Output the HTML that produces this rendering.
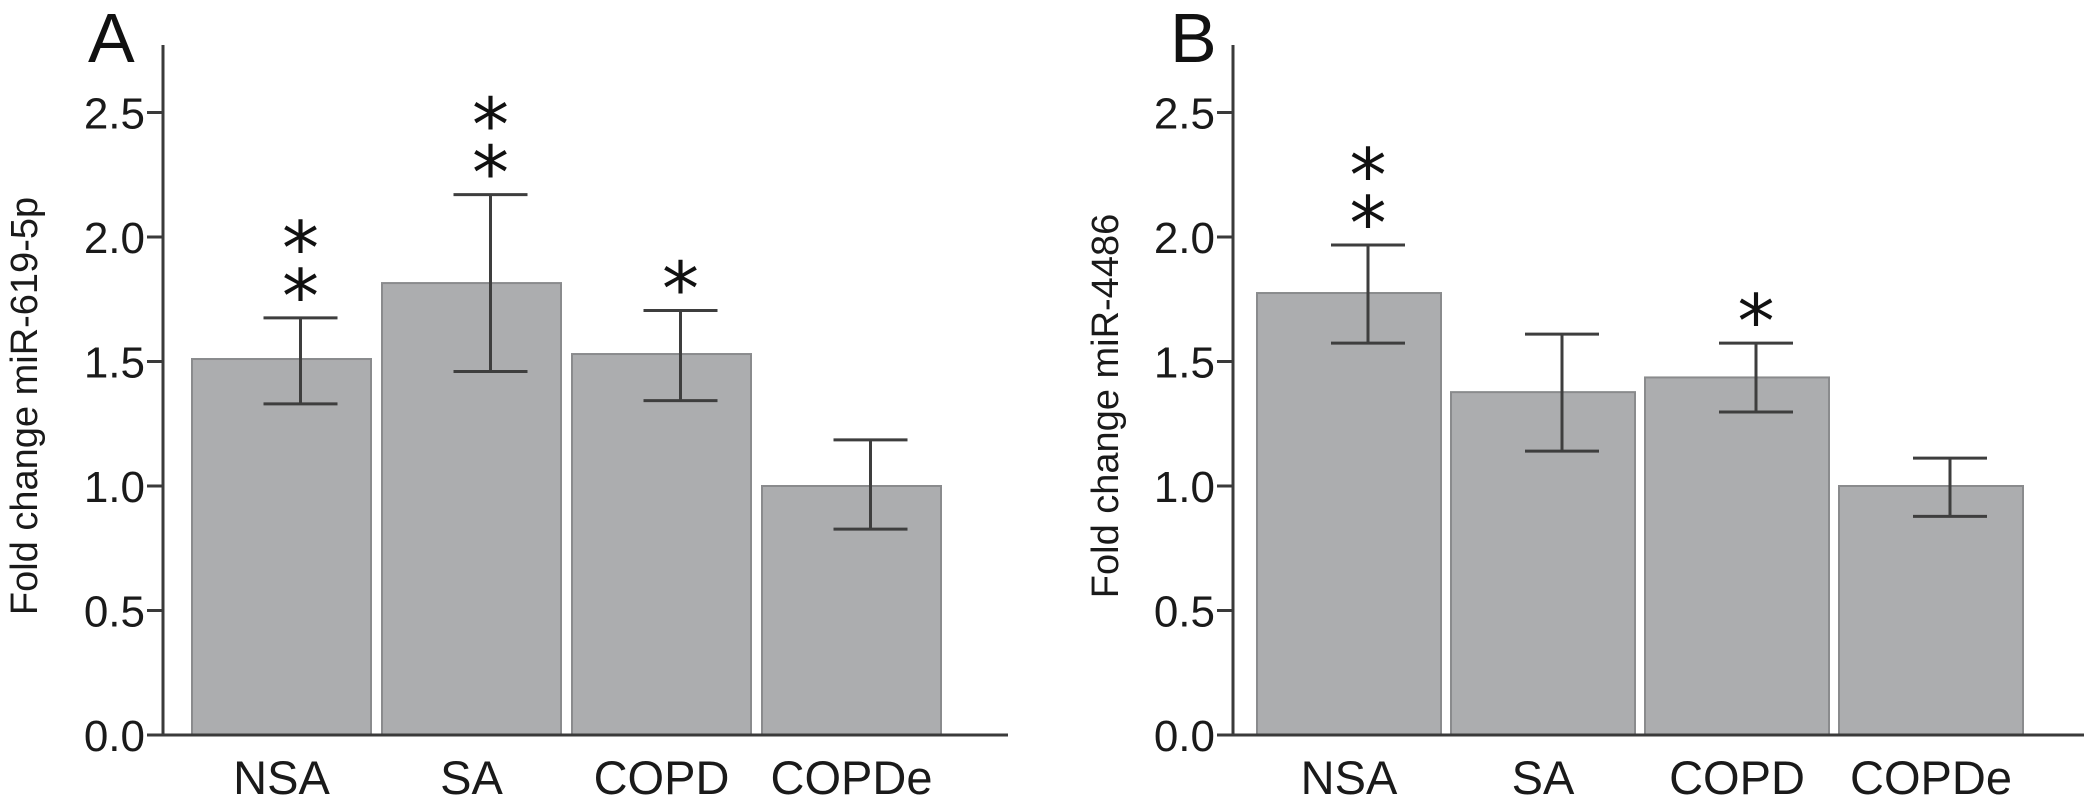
<!DOCTYPE html>
<html><head><meta charset="utf-8"><style>
html,body{margin:0;padding:0;background:#fff;}
svg{display:block;font-family:"Liberation Sans",Arial,sans-serif;}
</style></head><body>
<svg id="chart" width="2087" height="802" viewBox="0 0 2087 802"></svg>
<script>
const categories = ["NSA","SA","COPD","COPDe"];
const valuesA = [1.51, 1.815, 1.53, 1.0];
const errHiA = [1.675, 2.17, 1.705, 1.185];
const errLoA = [1.33, 1.46, 1.343, 0.827];
const starsA = [2, 2, 1, 0];
const valuesB = [1.775, 1.377, 1.436, 1.0];
const errHiB = [1.968, 1.61, 1.574, 1.112];
const errLoB = [1.574, 1.14, 1.297, 0.878];
const starsB = [2, 0, 1, 0];
const yTicks = [0, 0.5, 1.0, 1.5, 2.0, 2.5];
const yTickLabels = ["0.0","0.5","1.0","1.5","2.0","2.5"];

const NS = "http://www.w3.org/2000/svg";
const svg = document.getElementById("chart");
function mk(tag, attrs, parent){
  const e = document.createElementNS(NS, tag);
  for (const k in attrs) e.setAttribute(k, attrs[k]);
  (parent||svg).appendChild(e);
  return e;
}

function panel(cfg){
  const g = mk("g", {});
  
  
  const y0 = 735, unit = 249;
  const yScale = v => y0 - v * unit;
  const xBand = i => cfg.firstBar + i * cfg.step;
  cfg.values.forEach((v, i) => {
    const r = mk("rect", {x: xBand(i), y: yScale(v), width: cfg.barW, height: y0 - yScale(v), fill: "#acadaf", stroke: "#8a8b8d", "stroke-width": 2}, g);
    
    
  });
  cfg.values.forEach((v, i) => {
    const bc = xBand(i) + cfg.barW / 2;
    const cx = bc + 19;
    const eg = mk("g", {stroke: "#3e3e3e", "stroke-width": 3}, g);
    
    
    mk("line", {x1: cx, x2: cx, y1: yScale(cfg.hi[i]), y2: yScale(cfg.lo[i])}, eg);
    mk("line", {x1: cx - 37, x2: cx + 37, y1: yScale(cfg.hi[i]), y2: yScale(cfg.hi[i])}, eg);
    mk("line", {x1: cx - 37, x2: cx + 37, y1: yScale(cfg.lo[i]), y2: yScale(cfg.lo[i])}, eg);
    for (let s = 0; s < cfg.stars[i]; s++) {
      const cy = yScale(cfg.hi[i]) - 36 - s * 48;
      const t = mk("text", {x: cx, y: cy + 40, "text-anchor": "middle", "font-size": 74, "font-family": "DejaVu Sans, sans-serif", fill: "#111"}, g);
      t.textContent = "*";
      
      
    }
    const lbl = mk("text", {x: bc, y: 794, "text-anchor": "middle", "font-size": 47, fill: "#1a1a1a"}, g);
    lbl.textContent = categories[i];
    
    
  });
  const ya = mk("line", {x1: cfg.axisX, x2: cfg.axisX, y1: 45, y2: y0 + 1, stroke: "#3a3a3a", "stroke-width": 3}, g);
  
  
  const xa = mk("line", {x1: cfg.axisX - 16, x2: cfg.axisEnd, y1: y0, y2: y0, stroke: "#3a3a3a", "stroke-width": 3}, g);
  
  
  yTicks.forEach((t, i) => {
    mk("line", {x1: cfg.axisX - 16, x2: cfg.axisX, y1: yScale(t), y2: yScale(t), stroke: "#3a3a3a", "stroke-width": 3}, g);
    const tl = mk("text", {x: cfg.axisX - 18, y: yScale(t) + 16, "text-anchor": "end", "font-size": 44, fill: "#1a1a1a"}, g);
    tl.textContent = yTickLabels[i];
    
    
  });
  const title = mk("text", {x: 0, y: 0, "text-anchor": "middle", "font-size": 38, fill: "#1a1a1a", transform: "translate(" + cfg.titleX + ",406) rotate(-90)", "xml:space": "preserve"}, g);
  title.textContent = cfg.title;
  
  
  const pl = mk("text", {x: cfg.letterX, y: 62, "font-size": 70, fill: "#111"}, g);
  pl.textContent = cfg.letter;
  
  
}

panel({name: "panel-a", values: valuesA, hi: errHiA, lo: errLoA, stars: starsA,
  firstBar: 192, step: 190, barW: 179, axisX: 163, axisEnd: 1008, titleX: 37,
  title: "Fold  change miR-619-5p", letter: "A", letterX: 88});
panel({name: "panel-b", values: valuesB, hi: errHiB, lo: errLoB, stars: starsB,
  firstBar: 1257, step: 194, barW: 184, axisX: 1233, axisEnd: 2084, titleX: 1118,
  title: "Fold  change miR-4486", letter: "B", letterX: 1170});
</script>
</body></html>
